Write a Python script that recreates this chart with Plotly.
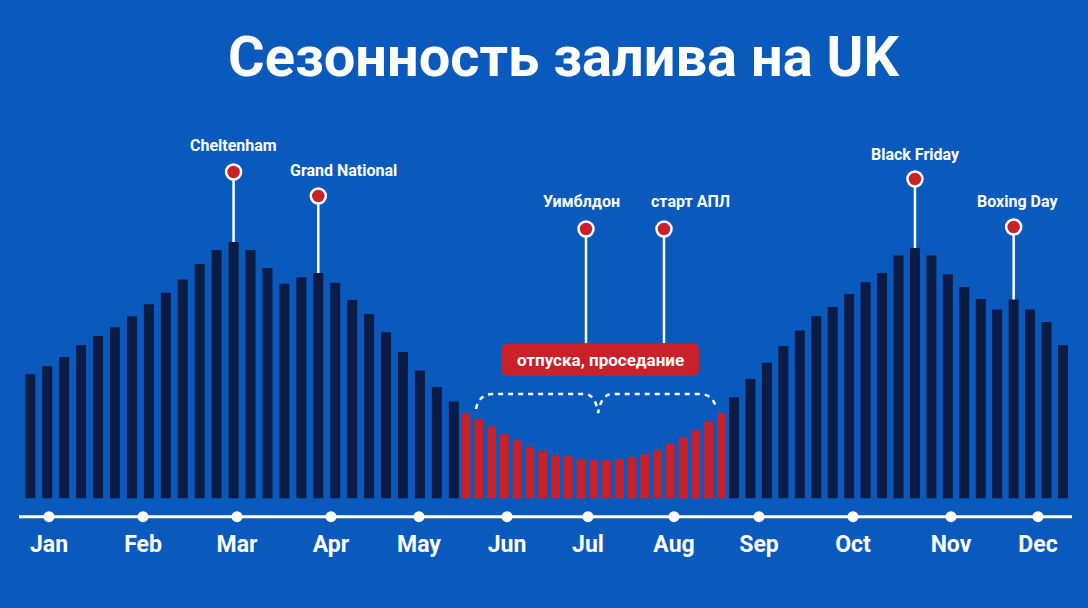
import plotly.graph_objects as go

# ---------------- data ----------------
MONTHS = ["Jan", "Feb", "Mar", "Apr", "May", "Jun", "Jul", "Aug", "Sep", "Oct", "Nov", "Dec"]
# relative deposit volume index (peak = 100)
SPRING = [48.4, 51.5, 55.1, 59.7, 63.3, 66.7, 71.0, 75.7, 80.2, 85.4, 91.4, 96.9, 100.0,
          96.9, 89.9, 83.7, 86.2, 87.9, 84.1, 77.4, 71.9, 64.8, 57.1, 49.9, 43.4, 37.8]
SUMMER = [33.2, 30.9, 28.2, 25.1, 22.6, 20.1, 18.5, 16.9, 16.4, 15.3, 14.9, 14.8, 15.3,
          16.0, 17.3, 18.8, 21.2, 23.8, 26.6, 30.0, 33.2]
AUTUMN = [39.4, 46.5, 52.9, 59.4, 65.5, 71.0, 74.6, 79.7, 84.3, 87.9, 94.7, 97.7, 94.7,
          87.4, 82.4, 77.8, 73.7, 77.6, 73.7, 68.8, 59.7]
EVENTS = ["Cheltenham", "Grand National", "Уимблдон", "старт АПЛ", "Black Friday", "Boxing Day"]
DIP_LABEL = "отпуска, проседание"
TITLE = "Сезонность залива на UK"

# ---------------- layout helpers ----------------
W, H = 1088, 608
BASE_PX, UNIT_PX = 498.3, 2.563          # baseline pixel row, pixels per index unit


def ypx(p):
    return (BASE_PX - p) / UNIT_PX


BG = "#0a5abe"
NAVY = "#0a1b45"
RED = "#c9202a"
WHITE = "#ffffff"
FONT = "Roboto, Arial, sans-serif"

# bar positions along the timeline (three segments with own spacing)
def seg(start, step, n):
    return [start + step * i for i in range(n)]

x_spring = seg(30.3, 16.94, len(SPRING))
x_summer = seg(466.0, 12.77, len(SUMMER))
x_autumn = seg(734.0, 16.45, len(AUTUMN))

MONTH_POS = [49, 143, 237, 331, 419, 507, 588, 674, 759, 853, 951, 1038]

fig = go.Figure()

fig.add_trace(go.Bar(x=x_spring, y=SPRING, width=10, marker=dict(color=NAVY, line_width=0),
                     hoverinfo="skip", showlegend=False))
fig.add_trace(go.Bar(x=x_summer, y=SUMMER, width=8.7, marker=dict(color=RED, line_width=0),
                     hoverinfo="skip", showlegend=False))
fig.add_trace(go.Bar(x=x_autumn, y=AUTUMN, width=10, marker=dict(color=NAVY, line_width=0),
                     hoverinfo="skip", showlegend=False))

# ---------------- event pins ----------------
BOX = dict(x0=501.7, x1=699.0, top=343.3, bottom=376.0)
pins = [
    # (name, x, line bottom y-value, circle px, label px, label x)
    (EVENTS[0], x_spring[12], SPRING[12], 172, 145, 233),
    (EVENTS[1], x_spring[17], SPRING[17], 196, 170, 343),
    (EVENTS[2], 586, ypx(BOX["top"]), 229, 201.5, 581),
    (EVENTS[3], 664, ypx(BOX["top"]), 229, 201.5, 690),
    (EVENTS[4], x_autumn[11], AUTUMN[11], 179, 154, 915),
    (EVENTS[5], x_autumn[17], AUTUMN[17], 227, 201, 1017),
]
for name, x, ybot, cpx, lpx, lx in pins:
    fig.add_trace(go.Scatter(x=[x, x], y=[ybot, ypx(cpx)], mode="lines",
                             line=dict(color=WHITE, width=2.5), hoverinfo="skip", showlegend=False))
fig.add_trace(go.Scatter(x=[p[1] for p in pins], y=[ypx(p[3]) for p in pins], mode="markers",
                         marker=dict(size=15, color=RED, line=dict(color=WHITE, width=2.5)),
                         hoverinfo="skip", showlegend=False))
for name, x, ybot, cpx, lpx, lx in pins:
    fig.add_annotation(x=lx, y=ypx(lpx), text=f"<b>{name}</b>", showarrow=False,
                       font=dict(family=FONT, size=16, color=WHITE), xanchor="center", yanchor="middle")

# ---------------- summer dip box ----------------
r = 7.0
rx, ry = r, r / UNIT_PX
bx0, bx1 = BOX["x0"], BOX["x1"]
by0, by1 = ypx(BOX["bottom"]), ypx(BOX["top"])
box_path = (f"M {bx0 + rx},{by0} L {bx1 - rx},{by0} Q {bx1},{by0} {bx1},{by0 + ry} "
            f"L {bx1},{by1 - ry} Q {bx1},{by1} {bx1 - rx},{by1} L {bx0 + rx},{by1} "
            f"Q {bx0},{by1} {bx0},{by1 - ry} L {bx0},{by0 + ry} Q {bx0},{by0} {bx0 + rx},{by0} Z")
fig.add_shape(type="path", path=box_path, fillcolor=RED, line=dict(width=0), layer="above")
fig.add_annotation(x=(bx0 + bx1) / 2, y=ypx(360), text=f"<b>{DIP_LABEL}</b>", showarrow=False,
                   font=dict(family=FONT, size=17, color=WHITE), xanchor="center", yanchor="middle")

# dashed brace over red bars
bl, br = x_summer[0] + 10, x_summer[-1] - 5
mid = (bl + br) / 2 + 2
yb, yt, ytip = ypx(409), ypx(394), ypx(413)
brace = (f"M {bl},{yb} Q {bl + 3},{yt} {bl + 17},{yt} L {mid - 14},{yt} Q {mid - 3},{yt} {mid},{ytip} "
         f"Q {mid + 3},{yt} {mid + 14},{yt} L {br - 17},{yt} Q {br - 3},{yt} {br},{yb}")
fig.add_shape(type="path", path=brace, line=dict(color=WHITE, width=2.5, dash="5px,5px"))

# ---------------- timeline ----------------
TL = ypx(516.7)
fig.add_shape(type="line", x0=19, x1=1072, y0=TL, y1=TL, line=dict(color=WHITE, width=3))
fig.add_trace(go.Scatter(x=MONTH_POS, y=[TL] * 12, mode="markers",
                         marker=dict(size=11, color=WHITE), hoverinfo="skip", showlegend=False))
fig.add_trace(go.Scatter(x=MONTH_POS, y=[ypx(546)] * 12, mode="text",
                         text=[f"<b>{m}</b>" for m in MONTHS], textposition="middle center",
                         textfont=dict(family=FONT, size=23, color=WHITE),
                         hoverinfo="skip", showlegend=False))

# ---------------- title ----------------
fig.add_annotation(x=563, y=ypx(57), text=f"<b>{TITLE}</b>", showarrow=False,
                   font=dict(family=FONT, size=56, color=WHITE), xanchor="center", yanchor="middle")

fig.update_layout(
    width=W, height=H,
    margin=dict(l=0, r=0, t=0, b=0),
    paper_bgcolor=BG, plot_bgcolor=BG,
    barmode="overlay",
    xaxis=dict(range=[0, W], visible=False, fixedrange=True),
    yaxis=dict(range=[ypx(H), ypx(0)], visible=False, fixedrange=True),
    showlegend=False,
)

fig.write_html("out.html", config={"displayModeBar": False})
